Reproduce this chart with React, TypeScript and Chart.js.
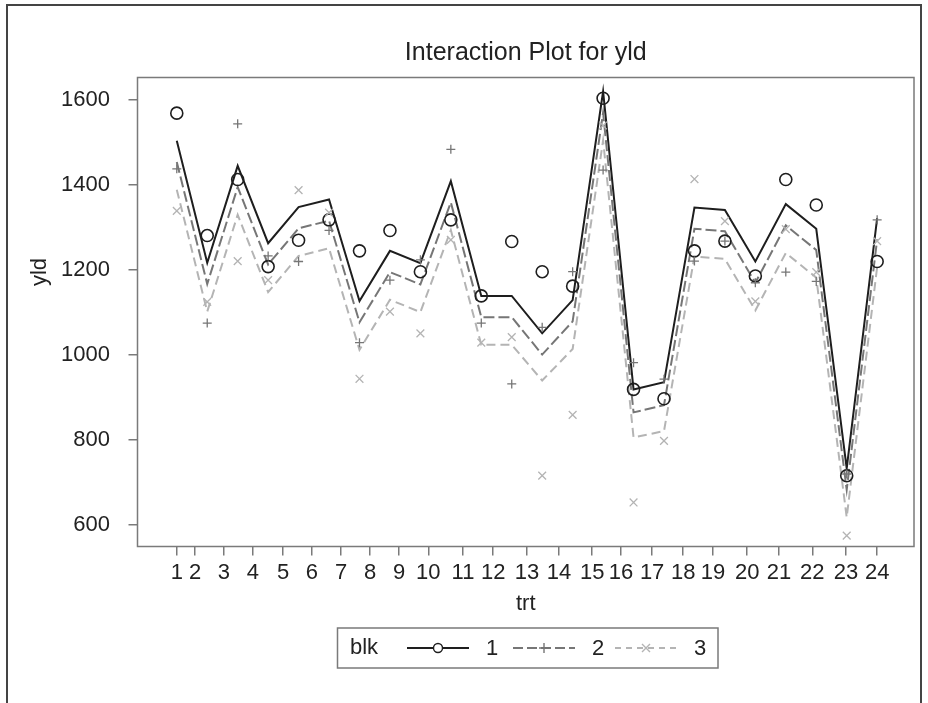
import React, { useEffect, useRef } from 'react';
import { Chart, registerables } from 'chart.js';
Chart.register(...registerables);

// ---- data ----
const trt = [1, 2, 3, 4, 5, 6, 7, 8, 9, 10, 11, 12, 13, 14, 15, 16, 17, 18, 19, 20, 21, 22, 23, 24];
const trtTickLabels = ['1', '2', '3', '4', '5', '6', '7', '8', '9', '10', '11', '12', '13', '14', '15', '16', '17', '18', '19', '20', '21', '22', '23', '24'];
// where the trt tick labels sit along the axis (in trt units), as drawn in the source
const trtTickValues = [1, 1.6, 2.55, 3.5, 4.49, 5.44, 6.4, 7.35, 8.3, 9.26, 10.4, 11.39, 12.5, 13.55, 14.64, 15.59, 16.61, 17.63, 18.61, 19.73, 20.78, 21.87, 22.98, 24];
const yldTicks = [600, 800, 1000, 1200, 1400, 1600];

const obsBlk1 = [1569, 1281, 1413, 1208, 1270, 1318, 1245, 1293, 1196, 1318, 1139, 1267, 1196, 1162, 1604, 919, 897, 1245, 1268, 1186, 1413, 1353, 716, 1220];
const obsBlk2 = [1438, 1075, 1544, 1233, 1220, 1293, 1029, 1176, 1224, 1484, 1075, 932, 1065, 1196, 1435, 982, 943, 1221, 1268, 1170, 1195, 1173, 720, 1318];
const obsBlk3 = [1339, 1125, 1221, 1176, 1388, 1335, 944, 1102, 1051, 1271, 1029, 1042, 716, 859, 1540, 653, 798, 1414, 1315, 1126, 1296, 1195, 575, 1268];

const fitBlk1 = [1504, 1217, 1445, 1263, 1348, 1366, 1127, 1245, 1216, 1409, 1139, 1139, 1051, 1129, 1620, 919, 936, 1347, 1341, 1220, 1355, 1297, 733, 1322];
const fitBlk2 = [1454, 1167, 1395, 1213, 1298, 1316, 1077, 1195, 1166, 1359, 1089, 1089, 1001, 1079, 1570, 865, 882, 1297, 1291, 1170, 1305, 1247, 683, 1272];
const fitBlk3 = [1389, 1102, 1330, 1148, 1233, 1251, 1012, 1130, 1101, 1294, 1024, 1024, 940, 1014, 1505, 806, 821, 1232, 1226, 1105, 1240, 1182, 618, 1207];

const blkNames = ['1', '2', '3'];

const FONT = '"Liberation Sans", Arial, sans-serif';
const C1 = '#1e1e1e';
const C2 = '#767676';
const C3 = '#b4b4b4';

const pts = (ys: number[]) => ys.map((y, i) => ({ x: trt[i], y }));

const decorPlugin = {
  id: 'decor',
  afterDraw(chart: any) {
    const ctx = chart.ctx;
    const a = chart.chartArea;
    ctx.save();
    // outer frame
    ctx.strokeStyle = '#444';
    ctx.lineWidth = 2;
    ctx.strokeRect(7, 5, 914, 720);
    // plot box
    ctx.strokeStyle = '#7a7a7a';
    ctx.lineWidth = 1.5;
    ctx.strokeRect(a.left, a.top, a.right - a.left, a.bottom - a.top);
    // title
    ctx.fillStyle = '#222';
    ctx.textAlign = 'center';
    ctx.textBaseline = 'middle';
    ctx.font = `25px ${FONT}`;
    ctx.fillText('Interaction Plot for yld', (a.left + a.right) / 2, 53);
    // axis titles
    ctx.font = `22px ${FONT}`;
    ctx.fillText('trt', (a.left + a.right) / 2, 604);
    ctx.save();
    ctx.translate(40, 272);
    ctx.rotate(-Math.PI / 2);
    ctx.fillText('yld', 0, 0);
    ctx.restore();
    // legend
    const lx = 337.5, ly = 628, lw = 380.5, lh = 40;
    const cy = ly + lh / 2;
    ctx.strokeStyle = '#7a7a7a';
    ctx.lineWidth = 1.5;
    ctx.strokeRect(lx, ly, lw, lh);
    ctx.textAlign = 'left';
    ctx.fillStyle = '#222';
    ctx.fillText('blk', 350, cy);
    const items = [
      { x0: 407, color: C1, dash: [], marker: 'circle', label: blkNames[0] },
      { x0: 513, color: C2, dash: [10, 4], marker: 'plus', label: blkNames[1] },
      { x0: 615, color: C3, dash: [6, 5], marker: 'x', label: blkNames[2] },
    ];
    items.forEach((it) => {
      const x1 = it.x0 + 62;
      const mx = (it.x0 + x1) / 2;
      ctx.strokeStyle = it.color;
      ctx.lineWidth = 1.8;
      ctx.setLineDash(it.dash);
      ctx.beginPath();
      ctx.moveTo(it.x0, cy);
      ctx.lineTo(x1, cy);
      ctx.stroke();
      ctx.setLineDash([]);
      ctx.lineWidth = 1.4;
      ctx.beginPath();
      if (it.marker === 'circle') {
        ctx.fillStyle = '#fff';
        ctx.arc(mx, cy, 4.5, 0, Math.PI * 2);
        ctx.fill();
        ctx.stroke();
      } else if (it.marker === 'plus') {
        ctx.moveTo(mx - 5, cy); ctx.lineTo(mx + 5, cy);
        ctx.moveTo(mx, cy - 5); ctx.lineTo(mx, cy + 5);
        ctx.stroke();
      } else {
        ctx.moveTo(mx - 4, cy - 4); ctx.lineTo(mx + 4, cy + 4);
        ctx.moveTo(mx - 4, cy + 4); ctx.lineTo(mx + 4, cy - 4);
        ctx.stroke();
      }
      ctx.fillStyle = '#222';
      ctx.fillText(it.label, x1 + 17, cy + 1);
    });
    ctx.restore();
  },
};

export default function App() {
  const ref = useRef<HTMLCanvasElement>(null);
  useEffect(() => {
    if (!ref.current) return;
    const lineDs = (data: number[], color: string, dash: number[], width: number, label: string) => ({
      type: 'line' as const,
      label,
      data: pts(data),
      borderColor: color,
      borderWidth: width,
      borderDash: dash,
      pointRadius: 0,
      fill: false,
      tension: 0,
      order: 2,
    });
    const obsDs = (data: number[], color: string, style: string, r: number, w: number, label: string) => ({
      type: 'scatter' as const,
      label,
      data: pts(data),
      showLine: false,
      pointStyle: style,
      pointRadius: r,
      pointBorderColor: color,
      pointBackgroundColor: 'rgba(0,0,0,0)',
      pointBorderWidth: w,
      borderColor: color,
      backgroundColor: 'rgba(0,0,0,0)',
      order: 1,
    });
    const chart = new Chart(ref.current, {
      type: 'scatter',
      data: {
        datasets: [
          lineDs(fitBlk3, C3, [9, 5], 2, 'fit 3'),
          lineDs(fitBlk2, C2, [11, 4], 2, 'fit 2'),
          lineDs(fitBlk1, C1, [], 2, 'fit 1'),
          obsDs(obsBlk3, C3, 'crossRot', 5.5, 1.3, '3'),
          obsDs(obsBlk2, C2, 'cross', 4.5, 1.3, '2'),
          obsDs(obsBlk1, C1, 'circle', 6, 1.6, '1'),
        ] as any,
      },
      options: {
        animation: false,
        responsive: false,
        events: [],
        layout: { padding: { left: 0, right: 14, top: 77.5, bottom: 0 } },
        plugins: { legend: { display: false }, tooltip: { enabled: false }, title: { display: false } },
        scales: {
          x: {
            type: 'linear',
            min: -0.29,
            max: 25.21,
            afterBuildTicks: (s: any) => {
              s.ticks = trtTickValues.map((v) => ({ value: v }));
            },
            afterFit: (s: any) => {
              s.height = 156.5;
            },
            ticks: {
              autoSkip: false,
              maxRotation: 0,
              minRotation: 0,
              padding: 4,
              color: '#222',
              font: { family: FONT, size: 22 },
              callback: (_v: any, i: number) => trtTickLabels[i],
            },
            grid: { display: true, drawOnChartArea: false, drawTicks: true, tickLength: 9, color: '#7a7a7a', lineWidth: 1.5 },
            border: { display: false },
          },
          y: {
            type: 'linear',
            min: 549.4,
            max: 1652.9,
            afterBuildTicks: (s: any) => {
              s.ticks = yldTicks.map((v) => ({ value: v }));
            },
            afterFit: (s: any) => {
              s.width = 137.5;
            },
            ticks: {
              padding: 18.5,
              color: '#222',
              font: { family: FONT, size: 22 },
              callback: (v: any) => String(v),
            },
            grid: { display: true, drawOnChartArea: false, drawTicks: true, tickLength: 9, color: '#7a7a7a', lineWidth: 1.5 },
            border: { display: false },
          },
        },
      },
      plugins: [decorPlugin],
    } as any);
    return () => chart.destroy();
  }, []);
  return (
    <div style={{ position: 'absolute', left: 0, top: 0, width: 928, height: 703, background: '#fff' }}>
      <canvas ref={ref} width={928} height={703} style={{ display: 'block', width: 928, height: 703 }} />
    </div>
  );
}
